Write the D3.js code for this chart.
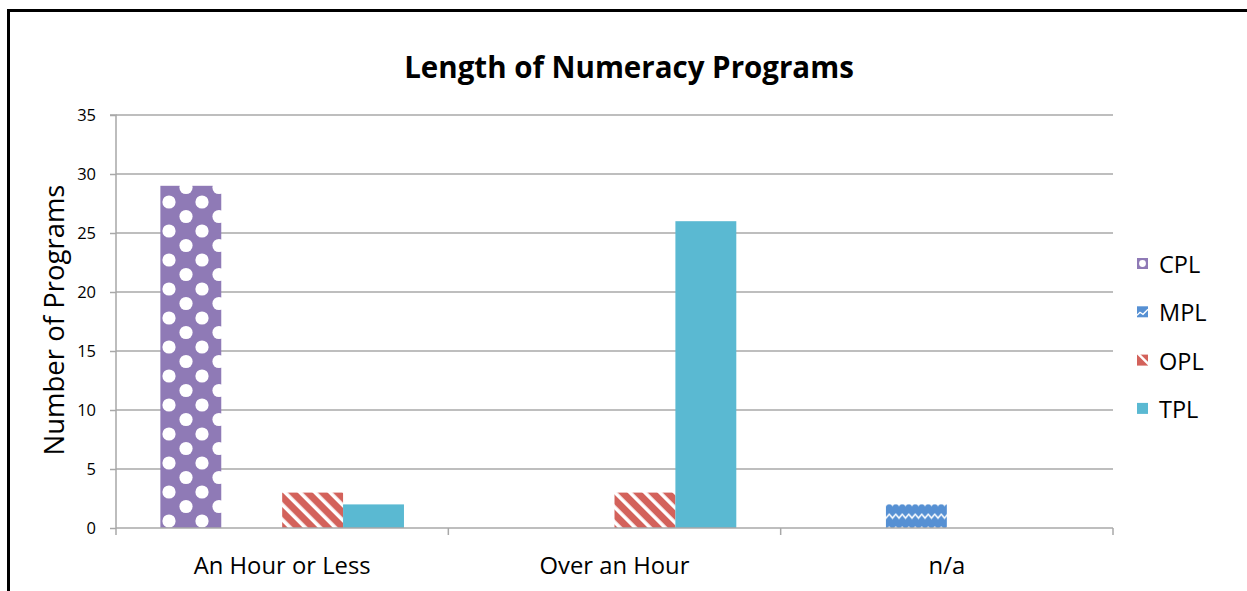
<!DOCTYPE html>
<html>
<head>
<meta charset="utf-8">
<script src="https://cdn.jsdelivr.net/npm/d3@7"></script>
<style>
  html, body { margin: 0; padding: 0; background: #fff; }
  svg { display: block; }
  text { font-family: "Open Sans", Lato, sans-serif; fill: #000; }
</style>
</head>
<body>
<svg id="chart" width="1247" height="591"></svg>
<script>
const title = "Length of Numeracy Programs";
const yLabel = "Number of Programs";
const categories = ["An Hour or Less", "Over an Hour", "n/a"];
const seriesNames = ["CPL", "MPL", "OPL", "TPL"];
const CPL = [29, 0, 0];
const MPL = [0, 0, 2];
const OPL = [3, 3, 0];
const TPL = [2, 26, 0];
const yTicks = [0, 5, 10, 15, 20, 25, 30, 35];

const seriesValues = { CPL, MPL, OPL, TPL };
const baseColors = { CPL: "#8f7ab6", MPL: "#5690d3", OPL: "#d3625b", TPL: "#5ab9d2" };

const svg = d3.select("#chart");
const W = 1247, H = 591;
const plot = { left: 116, right: 1113, top: 115, bottom: 528 };
const FONT = "'Open Sans', Lato, sans-serif";

// frame
svg.append("line").attr("x1", 8.5).attr("x2", W).attr("y1", 10.5).attr("y2", 10.5)
  .attr("stroke", "#000").attr("stroke-width", 3);
svg.append("line").attr("x1", 8.5).attr("x2", 8.5).attr("y1", 9).attr("y2", H)
  .attr("stroke", "#000").attr("stroke-width", 3);

// patterns
const defs = svg.append("defs");
const pDots = defs.append("pattern").attr("id", "pat-CPL").attr("patternUnits", "userSpaceOnUse")
  .attr("width", 33).attr("height", 29).attr("x", 153).attr("y", 195);
pDots.append("rect").attr("width", 33).attr("height", 29).attr("fill", baseColors.CPL);
[[16, 7], [0, 21.5], [33, 21.5], [16, 36], [0, -7.5], [33, -7.5]].forEach(([cx, cy]) =>
  pDots.append("circle").attr("cx", cx).attr("cy", cy).attr("r", 6.6).attr("fill", "#fff"));

const pWave = defs.append("pattern").attr("id", "pat-MPL").attr("patternUnits", "userSpaceOnUse")
  .attr("width", 13).attr("height", 13).attr("x", 886).attr("y", 513.5);
pWave.append("rect").attr("width", 13).attr("height", 13).attr("fill", baseColors.MPL);
pWave.append("path").attr("d", "M-3.25,0.8 L0,4.5 L3.25,0.8 L6.5,4.5 L9.75,0.8 L13,4.5 L16.25,0.8")
  .attr("fill", "none").attr("stroke", "#fff").attr("stroke-width", 1.5);

const pStripe = defs.append("pattern").attr("id", "pat-OPL").attr("patternUnits", "userSpaceOnUse")
  .attr("width", 10.6).attr("height", 10.6).attr("patternTransform", "rotate(-45)");
pStripe.append("rect").attr("width", 10.6).attr("height", 10.6).attr("fill", baseColors.OPL);
pStripe.append("rect").attr("x", 0).attr("width", 3.6).attr("height", 10.6).attr("fill", "#fff");

const fills = { CPL: "url(#pat-CPL)", MPL: "url(#pat-MPL)", OPL: "url(#pat-OPL)", TPL: baseColors.TPL };

// scales
const x0 = d3.scaleBand().domain(categories).range([plot.left, plot.right]).padding(0);
const x1 = d3.scaleBand().domain(seriesNames)
  .range([x0.bandwidth() * 0.1335, x0.bandwidth() * (1 - 0.1335)]).padding(0);
const y = d3.scaleLinear().domain([0, 35]).range([plot.bottom, plot.top]);

const gridColor = "#a8a8a8";

// gridlines
svg.append("g").selectAll("line").data(yTicks.filter(d => d > 0)).join("line")
  .attr("x1", plot.left).attr("x2", plot.right)
  .attr("y1", d => y(d)).attr("y2", d => y(d))
  .attr("stroke", gridColor).attr("stroke-width", 1.5);

// bars
const bars = [];
categories.forEach((c, i) => seriesNames.forEach(s => {
  if (seriesValues[s][i] > 0) bars.push({ c, s, v: seriesValues[s][i] });
}));
svg.append("g").selectAll("rect").data(bars).join("rect")
  .attr("x", d => x0(d.c) + x1(d.s))
  .attr("width", x1.bandwidth())
  .attr("y", d => y(d.v))
  .attr("height", d => y(0) - y(d.v))
  .attr("fill", d => fills[d.s]);

// y axis
const yAxis = d3.axisLeft(y).tickValues(yTicks).tickSize(6).tickPadding(14);
const gy = svg.append("g").attr("transform", `translate(${plot.left},0)`).call(yAxis);
gy.select(".domain").attr("stroke", gridColor).attr("stroke-width", 1.5)
  .attr("d", `M-6,${plot.top}H0V${plot.bottom}`);
gy.selectAll(".tick line").attr("stroke", gridColor).attr("stroke-width", 1.5);
gy.selectAll(".tick text").attr("font-family", FONT)
  .attr("font-size", 16.5).attr("fill", "#000");

// x axis
const xAxis = d3.axisBottom(x0).tickSize(0).tickPadding(0);
const gx = svg.append("g").attr("transform", `translate(0,${plot.bottom})`).call(xAxis);
gx.select(".domain").attr("stroke", gridColor).attr("stroke-width", 1.5)
  .attr("d", `M${plot.left},0H${plot.right}`);
gx.selectAll(".tick text").attr("font-family", FONT)
  .attr("font-size", 23.8).attr("fill", "#000").attr("dy", 0).attr("y", 46);
// category boundary ticks
const boundaries = categories.map(c => x0(c)).concat([plot.right]);
gx.append("g").selectAll("line").data(boundaries).join("line")
  .attr("x1", d => d).attr("x2", d => d).attr("y1", 0).attr("y2", 7)
  .attr("stroke", gridColor).attr("stroke-width", 1.5);

// title
svg.append("text").attr("x", 629).attr("y", 78).attr("text-anchor", "middle")
  .attr("font-size", 29.5).attr("font-weight", 700).text(title);

// y label
svg.append("text").attr("transform", "translate(64,320) rotate(-90)")
  .attr("text-anchor", "middle").attr("font-size", 27.5).text(yLabel);

// legend
const legend = svg.append("g").selectAll("g").data(seriesNames).join("g")
  .attr("transform", (d, i) => `translate(1137,${258 + i * 48.3})`);
legend.append("rect").attr("width", 11).attr("height", 11).attr("fill", d => baseColors[d]);
legend.filter(d => d === "CPL").append("circle").attr("cx", 5.5).attr("cy", 5.5).attr("r", 3.4).attr("fill", "#fff");
legend.filter(d => d === "MPL").append("path").attr("d", "M0,9 L3,6 L6,8 L11,3").attr("fill", "none").attr("stroke", "#fff").attr("stroke-width", 1.3);
legend.filter(d => d === "OPL").append("path").attr("d", "M1,-1 L12,10").attr("fill", "none").attr("stroke", "#fff").attr("stroke-width", 2.5);
legend.append("text").attr("x", 22).attr("y", 15).attr("font-size", 23.5).text(d => d);
</script>
</body>
</html>
